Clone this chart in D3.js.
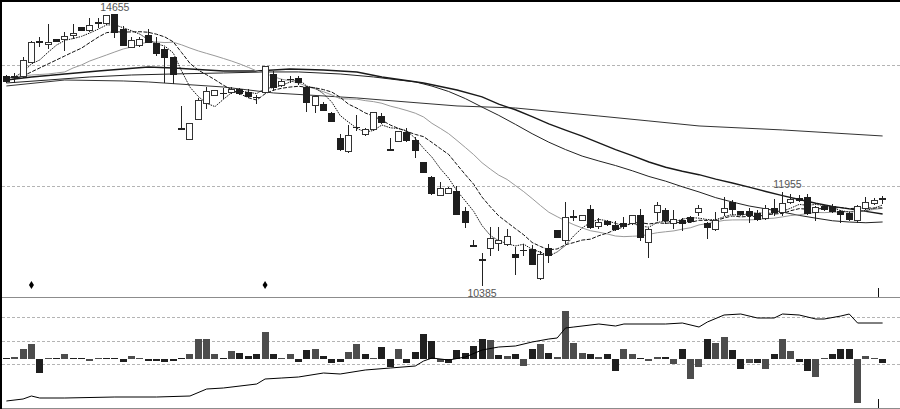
<!DOCTYPE html>
<html><head><meta charset="utf-8">
<script src="https://cdn.jsdelivr.net/npm/d3@7"></script>
<style>html,body{margin:0;padding:0;background:#fff;}svg{display:block;}</style>
</head><body>
<svg id="c" width="900" height="409"></svg>
<script>
// ---------- DATA ----------
const opens = [13678,13678,13678,13899,14230,14183,14261,14261,14325,14450,
 14403,14529,14513,14655,14419,14135,14167,14325,14198,14104,
 13978,12860,12686,13001,13253,13379,13411,13426,13474,13426,
 13332,13426,13710,13537,13631,13647,13505,13222,13237,13096,
 12702,12497,12860,12765,12843,13048,12529,12655,12796,12670,
 12324,12087,11804,11835,11867,11551,11016,10795,10969,11047,
 11032,10874,10937,10953,10496,10969,11252,11095,11473,11410,
 11583,11315,11394,11331,11362,11362,11488,11063,11536,11567,
 11362,11410,11457,11536,11362,11268,11536,11693,11551,11551,
 11520,11441,11599,11536,11693,11756,11772,11536,11630,11630,
 11551,11520,11410,11599,11677,11756];
const closes = [13600,13678,13930,14214,14225,14214,14230,14309,14356,14403,
 14482,14529,14640,14372,14167,14246,14261,14214,14041,13978,
 13710,12843,12938,13300,13442,13458,13415,13474,13411,13363,
 13348,13836,13505,13600,13635,13584,13269,13363,13144,12970,
 12529,12749,12875,12843,13111,12954,12525,12812,12670,12513,
 12166,11835,11914,11914,11504,11378,11010,10790,11126,11095,
 11158,10827,10940,10716,10874,10858,11142,11457,11470,11488,
 11299,11378,11347,11268,11315,11488,11142,11268,11646,11410,
 11425,11362,11394,11599,11299,11410,11599,11583,11504,11488,
 11425,11599,11536,11677,11741,11725,11520,11614,11583,11551,
 11504,11425,11630,11693,11725,11752];
const highs = [13694,13726,13978,14230,14293,14498,14261,14372,14498,14450,
 14592,14592,14640,14655,14466,14293,14293,14419,14293,14135,
 13978,13206,12938,13332,13505,13458,13489,13505,13489,13474,
 13379,13836,13757,13631,13678,13678,13521,13363,13269,13111,
 12765,12907,13064,12860,13111,13096,12702,12812,12860,12718,
 12324,12103,12008,11929,11945,11614,11095,10890,11299,11299,
 11268,10985,11032,11016,10922,11032,11252,11693,11567,11488,
 11646,11441,11410,11394,11457,11488,11583,11284,11693,11599,
 11567,11441,11473,11646,11378,11536,11772,11725,11551,11599,
 11567,11646,11741,11851,11819,11804,11819,11630,11646,11662,
 11567,11536,11646,11772,11756,11788];
const lows = [13584,13584,13663,13899,14151,14120,14230,14088,14277,14403,
 14387,14450,14498,14293,14167,14135,14151,14214,14009,13584,
 13568,12843,12686,13001,13174,13379,13332,13411,13395,13348,
 13253,13426,13458,13521,13584,13552,13127,13111,13144,12970,
 12513,12481,12828,12749,12828,12938,12513,12655,12655,12402,
 12166,11819,11804,11835,11504,11299,11000,10385,10858,10937,
 11016,10559,10858,10716,10480,10748,11142,11047,11410,11410,
 11284,11284,11331,11252,11284,11347,11095,10827,11410,11362,
 11284,11252,11378,11488,11126,11252,11488,11504,11504,11378,
 11410,11425,11488,11488,11677,11709,11504,11410,11567,11536,
 11378,11410,11378,11583,11662,11677];

const ma5 = [13647,13663,13742,13868,13931,14053,14164,14239,14268,14302,
 14356,14416,14482,14485,14438,14391,14337,14252,14186,14148,
 14041,13757,13502,13354,13247,13196,13310,13417,13439,13423,
 13401,13486,13493,13530,13584,13631,13518,13489,13398,13266,
 13055,12951,12853,12793,12821,12906,12862,12850,12815,12695,
 12538,12399,12219,12068,11867,11709,11545,11321,11164,11082,
 11038,11000,11028,10946,10902,10842,10905,11009,11161,11284,
 11372,11419,11397,11356,11321,11359,11312,11296,11372,11391,
 11378,11422,11447,11438,11416,11413,11460,11498,11479,11517,
 11520,11520,11510,11545,11596,11655,11640,11655,11637,11599,
 11555,11536,11539,11561,11596,11646];
const ma10 = [13615,13631,13679,13742,13805,13868,13931,13994,14057,14117,
 14205,14290,14361,14376,14370,14373,14376,14367,14336,14293,
 14216,14047,13877,13770,13697,13619,13534,13460,13396,13335,
 13299,13398,13455,13485,13504,13516,13502,13491,13464,13425,
 13343,13234,13171,13096,13044,12981,12906,12851,12804,12758,
 12722,12631,12535,12442,12281,12123,11972,11770,11616,11474,
 11373,11273,11175,11055,10992,10940,10953,11019,11054,11093,
 11107,11162,11203,11258,11302,11366,11366,11347,11364,11356,
 11369,11367,11372,11405,11403,11395,11441,11473,11458,11466,
 11466,11490,11504,11512,11556,11588,11580,11583,11591,11597,
 11605,11588,11597,11599,11597,11600];
const ma20 = [13647,13663,13679,13694,13702,13710,13726,13742,13805,13852,
 13915,13962,14009,14057,14104,14135,14183,14214,14214,14205,
 14210,14169,14119,14073,14034,13996,13955,13913,13866,13814,
 13757,13723,13666,13627,13601,13567,13518,13475,13430,13380,
 13321,13316,13313,13290,13274,13248,13204,13171,13134,13092,
 13032,12932,12853,12769,12662,12552,12439,12311,12210,12116,
 12048,11952,11855,11748,11637,11532,11462,11395,11335,11284,
 11240,11217,11189,11157,11147,11153,11159,11183,11209,11224,
 11238,11265,11288,11332,11353,11380,11403,11410,11411,11411,
 11418,11429,11438,11458,11480,11492,11510,11528,11525,11532,
 11536,11539,11551,11555,11577,11594];
const ma50Idx = [0,5,10,15,20,26,31,35,40,44,47,49,51,53,55,57,59,61,63,65,67,69,71,73,75,77,79,81,83,85,87,89,91,93,95,97,99,101,103,105];
const ma50Val = [13568,13615,13663,13694,13710,13726,13742,13742,13710,13663,13615,13586,13519,13434,13322,13188,13058,12916,12769,12635,12519,12416,12339,12267,12185,12095,12021,11933,11851,11761,11692,11630,11585,11534,11482,11438,11397,11377,11366,11378];
const ma60Idx = [0,3,7,11,17,20,26,30,34,38,42,45,50,54,57,59,61,63,65,67,69,71,73,75,77,79,81,83,85,87,89,91,93,95,97,99,101,103,105];
const ma60Val = [13615,13663,13710,13757,13820,13805,13757,13757,13789,13773,13742,13663,13568,13458,13348,13234,13146,13037,12925,12826,12730,12624,12517,12424,12323,12240,12177,12123,12054,11993,11928,11859,11794,11733,11674,11624,11585,11545,11503];
const ma120Idx = [0,7,14,17,26,32,42,45,54,61,71,77,83,93,105];
const ma120Val = [13521,13615,13600,13584,13505,13411,13332,13300,13206,13174,13048,12970,12891,12828,12733];

const gridPrices = [13850, 11945];
const markerIdx = [3, 31];
const cursorPos = 104.4;
const priceLabels = [{i:13, text:"14655", at:"high"}, {i:57, text:"10385", at:"low"}, {i:93, text:"11955", at:"high"}];

const histVals = [0.5,2.3,10,15,-13.7,1.3,0.3,5,0.3,1.3,
 -1.7,1.3,0.3,0.3,-2.7,3,0.3,-1.7,-1.7,-2.7,
 -1.7,1.3,5,20,20,5,1.3,8,6.3,3,
 5,27,5,1.3,5,-2.7,9,10,3,-3.7,
 -2.7,7.3,15,5,1.3,11.7,-7.7,10,-3.7,7.3,
 25,18,-2.7,-3.7,9,6.3,13,20,19,4,
 3,5,-7,10,15,6.3,2.3,48,16.3,6.3,
 5,2.3,5,-11.7,10,5,0.3,-1.7,2.3,2.3,
 -5.3,10,-20.3,-8.3,20,16.3,22.3,9,-10.3,-3.7,
 -3.7,-10.3,5,20,8,-2.7,-11.7,-18.3,0.3,5,
 10,10,-44.3,3,0.3,-3.7];
const histDark = [1,0,0,0,1,0,1,0,1,1,
 0,0,1,1,1,0,0,1,1,1,
 1,1,0,0,0,0,1,0,1,1,
 1,0,1,0,0,1,1,0,1,1,
 1,0,0,1,0,1,1,0,1,1,
 1,1,0,1,1,1,1,1,0,1,
 0,1,0,1,0,1,0,0,0,0,
 1,0,1,1,0,0,1,0,0,1,
 0,1,0,0,1,0,0,1,1,0,
 1,0,1,0,0,1,1,0,0,1,
 1,1,0,0,0,1];
const lineIdx = [0,2,3,4,7,13,18,22,24,26,30,31,33,35,38,40,43,46,49,50,51,53,55,57,59,61,63,65,66,67,68,71,73,74,79,81,83,84,86,88,90,92,93,95,97,98,100,101,102,105];
const lineVal = [-42,-40,-37,-39,-39,-38,-38,-37,-30,-29,-25,-20,-19,-18,-14,-15,-11,-9,-7,-2,1,-1,2,9,12,13,17,20,21,31,32,35,33,35,35,36,32,37,44,45,41,41,45,44,40,40,43,45,36,36];
const lowerGrid = [42, 18, -5];

// ---------- CHART ----------
const W = 900, H = 409, n = opens.length;
const svg = d3.select('#c');
svg.append('rect').attr('width', W).attr('height', H).attr('fill', '#fff');

const x = d3.scaleBand().domain(d3.range(n)).range([2.83, 886.17]).paddingInner(0.15);
const xc = i => x(i) + x.bandwidth() / 2;
const xl = d3.scaleLinear().domain([0, n - 1]).range([xc(0), xc(n - 1)]);
const y = d3.scaleLinear().domain([10385, 14655]).range([285, 14]);
const yv = d3.scaleLinear().domain([-50, 61]).range([409, 298]);

// grid
const g0 = svg.append('g').attr('shape-rendering', 'crispEdges');
gridPrices.forEach(p => {
  const yy = Math.round(y(p)) + 0.5;
  g0.append('line').attr('x1', 2).attr('x2', W).attr('y1', yy).attr('y2', yy)
    .attr('stroke', '#b4b4b4').attr('stroke-dasharray', '3,2');
});
lowerGrid.forEach(v => {
  const yy = Math.round(yv(v)) + 0.5;
  g0.append('line').attr('x1', 2).attr('x2', W).attr('y1', yy).attr('y2', yy)
    .attr('stroke', '#b4b4b4').attr('stroke-dasharray', '3,2');
});

// moving averages
const lineGen = d3.line().x(d => xl(d[0])).y(d => y(d[1]));
const maG = svg.append('g').attr('fill', 'none');
const pairs = (idx, val) => idx.map((k, j) => [k, val[j]]);
maG.append('path').attr('d', lineGen(pairs(ma120Idx, ma120Val))).attr('stroke', '#333').attr('stroke-width', 1);
maG.append('path').attr('d', lineGen(pairs(ma50Idx, ma50Val))).attr('stroke', '#222').attr('stroke-width', 1);
maG.append('path').attr('d', lineGen(pairs(ma60Idx, ma60Val))).attr('stroke', '#1a1a1a').attr('stroke-width', 1.4);
maG.append('path').attr('d', lineGen(ma20.map((v, i) => [i, v]))).attr('stroke', '#9a9a9a').attr('stroke-width', 1);
maG.append('path').attr('d', lineGen(ma10.map((v, i) => [i, v]))).attr('stroke', '#111').attr('stroke-width', 1).attr('stroke-dasharray', '4,1.5');
maG.append('path').attr('d', lineGen(ma5.map((v, i) => [i, v]))).attr('stroke', '#111').attr('stroke-width', 1).attr('stroke-dasharray', '1.5,1');

// candles
const cg = svg.append('g').attr('shape-rendering', 'crispEdges');
const bw = Math.round(x.bandwidth());
for (let i = 0; i < n; i++) {
  const o = opens[i], c = closes[i];
  const bx = Math.round(x(i));
  const cx = bx + Math.floor(bw / 2) + 0.5;
  const top = Math.round(y(Math.max(o, c)));
  const bot = Math.round(y(Math.min(o, c)));
  const hh = bot - top;
  const down = c <= o;
  cg.append('line').attr('x1', cx).attr('x2', cx)
    .attr('y1', Math.round(y(highs[i]))).attr('y2', Math.round(y(lows[i])) + 1)
    .attr('stroke', '#222');
  if (hh <= 1) {
    cg.append('rect').attr('x', bx).attr('y', top).attr('width', bw).attr('height', down ? 2 : 1)
      .attr('fill', '#222');
  } else if (down) {
    cg.append('rect').attr('x', bx).attr('y', top).attr('width', bw).attr('height', hh + 1)
      .attr('fill', '#1e1e1e');
  } else {
    cg.append('rect').attr('x', bx + 0.5).attr('y', top + 0.5).attr('width', bw - 1).attr('height', hh)
      .attr('fill', '#fff').attr('stroke', '#333');
  }
}

// markers (diamonds) near panel bottom
markerIdx.forEach(i => {
  const mx = xc(i), my = y.range()[0];
  svg.append('path').attr('d', `M${mx},${my - 4}L${mx + 2.5},${my}L${mx},${my + 4}L${mx - 2.5},${my}Z`).attr('fill', '#000');
});

// price labels
priceLabels.forEach(l => {
  const yy = l.at === 'high' ? y(highs[l.i]) - 3.5 : y(lows[l.i]) + 12;
  svg.append('text').attr('x', xc(l.i) + (l.i === 93 ? 5 : 0)).attr('y', yy)
    .attr('text-anchor', 'middle').attr('font-family', '"Liberation Sans", Arial, sans-serif')
    .attr('font-size', 10.5).attr('fill', '#555').text(l.text);
});

// lower panel bars
const hg = svg.append('g').attr('shape-rendering', 'crispEdges');
histVals.forEach((v, i) => {
  const bx = Math.round(x(i));
  const y0 = Math.round(yv(0));
  let t = Math.round(yv(Math.max(v, 0))), b = Math.round(yv(Math.min(v, 0)));
  if (b - t < 1) { if (v >= 0) t = y0 - 1; else b = y0 + 1; }
  hg.append('rect').attr('x', bx).attr('y', t).attr('width', bw).attr('height', b - t)
    .attr('fill', histDark[i] ? '#1f1f1f' : '#4d4d4d');
});
const lowLine = d3.line().x(d => xl(d[0])).y(d => yv(d[1]));
svg.append('path').attr('d', lowLine(pairs(lineIdx, lineVal))).attr('fill', 'none').attr('stroke', '#000').attr('stroke-width', 1);

// frame
const fg = svg.append('g').attr('shape-rendering', 'crispEdges');
fg.append('line').attr('x1', 0).attr('x2', W).attr('y1', 297.5).attr('y2', 297.5).attr('stroke', '#8c8c8c');
fg.append('line').attr('x1', 0).attr('x2', W).attr('y1', 408.5).attr('y2', 408.5).attr('stroke', '#8c8c8c');
fg.append('rect').attr('x', 0).attr('y', 0).attr('width', W).attr('height', 2).attr('fill', '#000');
fg.append('rect').attr('x', 0).attr('y', 0).attr('width', 2).attr('height', H).attr('fill', '#000');
// cursor ticks
const cxp = Math.round(xl(cursorPos)) + 0.5;
fg.append('line').attr('x1', cxp).attr('x2', cxp).attr('y1', y.range()[0] + 3).attr('y2', 297).attr('stroke', '#111');
fg.append('line').attr('x1', cxp).attr('x2', cxp).attr('y1', 399).attr('y2', 408).attr('stroke', '#111');
</script>
</body></html>
